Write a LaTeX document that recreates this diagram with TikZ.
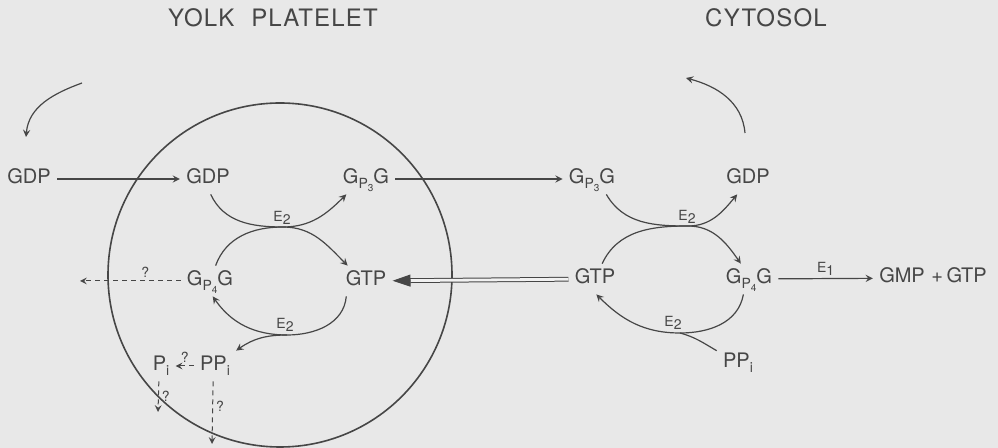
\documentclass[tikz,border=0pt]{standalone}
\usepackage{fontspec}
\setmainfont{TeX Gyre Heros}
\usepackage{tikz}
\usetikzlibrary{arrows,arrows.meta}
\definecolor{paper}{RGB}{232,232,232}
\definecolor{ink}{RGB}{70,70,70}
\newcommand{\lowsub}[1]{\raisebox{-0.45ex}{\scriptsize #1}}
\newcommand{\GpG}[1]{G\raisebox{-0.4ex}{\scriptsize P\raisebox{-0.4ex}{\tiny #1}}G}
\tikzstyle{chem} = [inner sep=3pt, text height=7pt, text depth=2pt, text=ink]
\tikzstyle{title} = [font=\fontsize{12}{14}\selectfont\addfontfeature{LetterSpace=5}, text=ink]
\tikzstyle{enzyme} = [font=\scriptsize, text=ink, inner sep=1pt]
\tikzstyle{query} = [font=\scriptsize, text=ink, inner sep=1.5pt]
\tikzstyle{arrow} = [draw=ink, line width=0.6pt, ->, >=stealth]
\tikzstyle{leak} = [arrow, line width=0.5pt, dash pattern=on 2.5pt off 2pt]
\tikzstyle{transfer} = [draw=ink, line width=0.5pt, double=paper!60!white, double distance=1.4pt, -{Triangle[length=9pt,width=6pt]}]

\begin{document}
\begin{tikzpicture}[x=0.5pt, y=0.5pt]
\fill[paper] (0,0) rectangle (998,-448);
\useasboundingbox (0,0) rectangle (998,-448);

% the two compartments
\node (yolk) [title] at (273,-18) {YOLK\hspace{0.7em}PLATELET};
\node (cyto) [title] at (766,-18) {CYTOSOL};
\draw[ink, line width=0.8pt] (280,-275) circle (172);

% yolk platelet
\node (gdpL) [chem] at (29,-179) {GDP};
\node (gdpI) [chem] at (208,-179) {GDP};
\node (gp3I) [chem] at (366,-179) {\GpG{3}};
\node (gp4I) [chem] at (210,-281) {\GpG{4}};
\node (gtpI) [chem] at (366,-281) {GTP};
\node (piI) [chem] at (161,-366) {P\lowsub{i}};
\node (ppiI) [chem] at (215,-366) {PP\lowsub{i}};

% cytosol
\node (gp3C) [chem] at (592,-179) {\GpG{3}};
\node (gdpC) [chem] at (748,-179) {GDP};
\node (gtpC) [chem] at (595,-279) {GTP};
\node (gp4C) [chem] at (749,-279) {\GpG{4}};
\node (prod) [chem] at (933,-278) {GMP\,\,+\,GTP};
\node (ppiC) [chem] at (738,-363) {PP\lowsub{i}};

\coordinate (crossL) at (283,-227);
\coordinate (crossLb) at (287,-335);
\coordinate (crossR) at (688,-226);
\coordinate (crossRb) at (680,-333);
\node (e2a) [enzyme] at (282,-218) {E\lowsub{2}};
\node (e2b) [enzyme] at (285,-325) {E\lowsub{2}};
\node (e2c) [enzyme] at (687,-217) {E\lowsub{2}};
\node (e2d) [enzyme] at (673,-323) {E\lowsub{2}};

% in and out of the cell
\coordinate (inS) at (82,-83);
\coordinate (inE) at (26,-137);
\coordinate (outS) at (745,-133);
\coordinate (outE) at (686,-78);
\draw [arrow] (inS) to[out=200,in=85] (inE);
\draw [arrow] (outS) to[out=95,in=-15] (outE);

\draw [arrow] (gdpL) -- (gdpI);
\draw [arrow] (gp3I) -- (gp3C);
\draw [arrow] (gp4C) -- node[enzyme, above] (e1) {E\lowsub{1}} (prod);
\draw [transfer] (gtpC) -- (gtpI);

% E2 cycle, platelet
\draw [arrow] (gdpI.280) to[out=-65,in=180] (crossL) to[out=0,in=225] (gp3I.218);
\draw [arrow] (gp4I.70) to[out=70,in=180] (crossL) to[out=0,in=135] (gtpI.140);
\draw [arrow] (gtpI.218) to[out=-95,in=0] (crossLb) to[out=180,in=-55] (gp4I.280);
\draw [arrow] (crossLb) to[out=180,in=35] (ppiI.36);

% E2 cycle, cytosol
\draw [arrow] (gp3C.313) to[out=-60,in=180] (crossR) to[out=0,in=230] (gdpC.235);
\draw [arrow] (gtpC.65) to[out=65,in=180] (crossR) to[out=0,in=125] (gp4C.118);
\draw [arrow] (gp4C.250) to[out=-100,in=0] (crossRb) to[out=180,in=-45] (gtpC.275);
\draw [draw=ink, line width=0.6pt] (ppiC.150) to[out=150,in=-15] (crossRb);

% unknown fates
\coordinate (outA) at (80,-281);
\coordinate (outB) at (158,-412);
\coordinate (outC) at (212,-444);
\draw [leak] (gp4I) -- node[query, pos=0.35, above] (qA) {?} (outA);
\draw [leak] (ppiI) -- node[query, above] (qB) {?} (piI);
\draw [leak] (piI.262) -- node[query, right] (qC) {?} (outB);
\draw [leak] (ppiI.263) -- node[query, right, pos=0.4] (qD) {?} (outC);
\end{tikzpicture}
\end{document}
